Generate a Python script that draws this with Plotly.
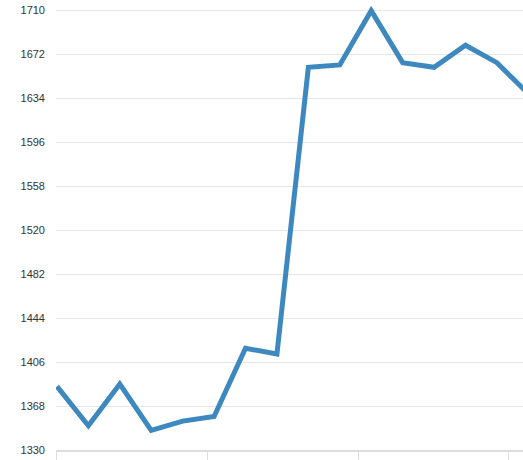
import numpy as np
import plotly.graph_objects as go

# index of each observation along the x axis
steps = list(range(16))
values = [1385, 1351, 1387, 1347, 1355, 1359, 1418, 1413,
          1661, 1663, 1710, 1665, 1661, 1680, 1665, 1638]
y_ticks = [1330, 1368, 1406, 1444, 1482, 1520, 1558, 1596, 1634, 1672, 1710]

fig = go.Figure()
fig.add_trace(
    go.Scatter(
        x=steps,
        y=values,
        mode="lines",
        line={"color": "#3d88bf", "width": 5},
        hoverinfo="x+y",
    )
)

fig.update_layout(
    width=523,
    height=460,
    margin=dict(l=56, r=0, t=6, b=8),
    paper_bgcolor="white",
    plot_bgcolor="white",
    showlegend=False,
    font=dict(family="Liberation Sans, Arial, sans-serif", size=11, color="#333333"),
)
fig.update_xaxes(
    range=[-0.03, 14.83],
    tick0=0,
    dtick=4.79,
    showticklabels=False,
    ticks="outside",
    ticklen=10,
    tickwidth=1,
    tickcolor="#dddddd",
    showgrid=False,
    zeroline=False,
    showline=True,
    linecolor="#dddddd",
    linewidth=2,
)
fig.update_yaxes(
    range=[1330, 1714],
    tickvals=y_ticks,
    ticktext=[str(v) for v in y_ticks],
    ticks="",
    ticklabelstandoff=10,
    showgrid=True,
    gridcolor="#e6e6e6",
    gridwidth=1,
    zeroline=False,
    showline=False,
)

# page body has a default 8px margin; drop it so the chart sits at the corner
fig.write_html(
    "out.html",
    config={"displayModeBar": False},
    post_script="document.body.style.margin='0';document.body.style.overflow='hidden';",
)
